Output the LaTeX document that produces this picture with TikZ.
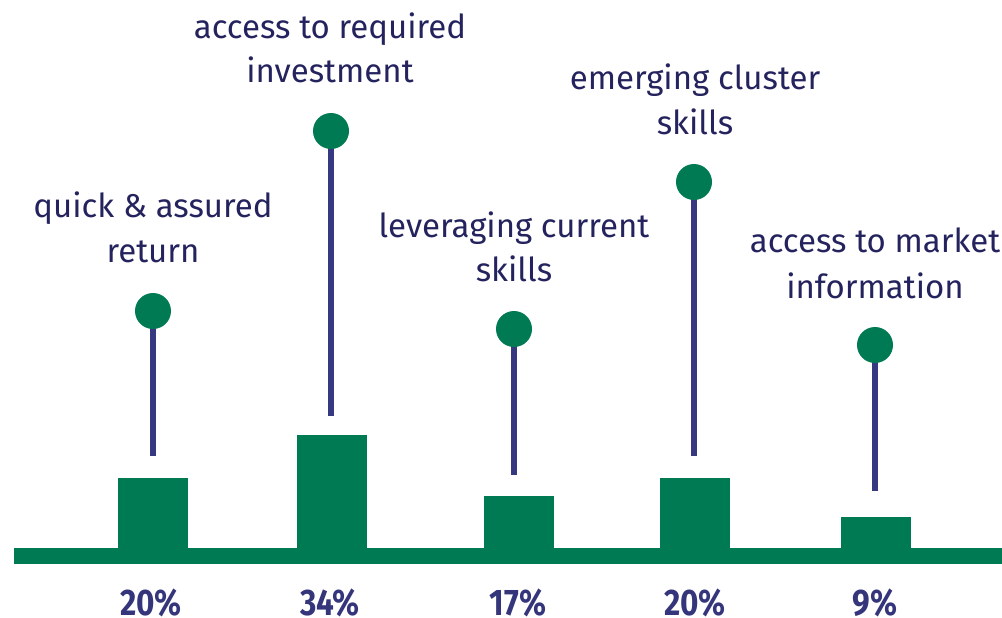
\documentclass[tikz,border=0pt]{standalone}
\usepackage{fontspec}
\setmainfont{Fira Sans}
\newfontfamily\pctfont[FakeStretch=0.85]{Fira Sans}
\definecolor{barGreen}{HTML}{007A53}
\definecolor{txtNavy}{HTML}{24235E}
\definecolor{pctNavy}{HTML}{34357A}
\definecolor{stemNavy}{HTML}{363880}
\begin{document}
\begin{tikzpicture}[x=1pt,y=-1pt,
  barbox/.style={fill=barGreen,draw=none},
  stem/.style={draw=stemNavy,line width=5.5pt},
  dot/.style={circle,fill=barGreen,draw=none,minimum size=36pt,inner sep=0pt},
  lbl/.style={anchor=base,inner sep=0pt,text=txtNavy,font=\fontsize{33}{38}\selectfont},
  pct/.style={anchor=base,inner sep=0pt,text depth=0pt,text=pctNavy,font=\pctfont\fontsize{37}{40}\selectfont\bfseries}]
\useasboundingbox (0,0) rectangle (1002,618);
\clip (0,0) rectangle (1002,618);
% baseline
\fill[barGreen] (14,548) rectangle (1002,564);
% bars
\path[barbox] (118,478) rectangle (188,549);
\path[barbox] (297,435) rectangle (367,549);
\path[barbox] (484,496) rectangle (554,549);
\path[barbox] (660,478) rectangle (730,549);
\path[barbox] (841,517) rectangle (911,549);
% stem ends
\coordinate (e1) at (153,456);
\coordinate (e2) at (331,416);
\coordinate (e3) at (514,475);
\coordinate (e4) at (694,456);
\coordinate (e5) at (875,491);
% dots
\coordinate (c1) at (153,311);
\coordinate (c2) at (331,131);
\coordinate (c3) at (514,329);
\coordinate (c4) at (694,182);
\coordinate (c5) at (875,345);
\draw[stem] (c1) -- (e1);
\draw[stem] (c2) -- (e2);
\draw[stem] (c3) -- (e3);
\draw[stem] (c4) -- (e4);
\draw[stem] (c5) -- (e5);
\node[dot] (d1) at (c1) {};
\node[dot] (d2) at (c2) {};
\node[dot] (d3) at (c3) {};
\node[dot] (d4) at (c4) {};
\node[dot] (d5) at (c5) {};
% labels
\node[lbl] (l1a) at (153,217) {quick \& assured};
\node[lbl] (l1b) at (153,262) {return};
\node[lbl] (l2a) at (330,39) {access to required};
\node[lbl] (l2b) at (330,83) {investment};
\node[lbl] (l3a) at (514,237) {leveraging current};
\node[lbl] (l3b) at (514,281) {skills};
\node[lbl] (l4a) at (695,90) {emerging cluster};
\node[lbl] (l4b) at (695,135) {skills};
\node[lbl] (l5a) at (875,252) {access to market};
\node[lbl] (l5b) at (875,298) {information};
% percentages
\node[pct] (p1) at (151,615) {20\%};
\node[pct] (p2) at (330,615) {34\%};
\node[pct] (p3) at (518,615) {17\%};
\node[pct] (p4) at (695,615) {20\%};
\node[pct] (p5) at (875,615) {9\%};
\end{tikzpicture}
\end{document}
